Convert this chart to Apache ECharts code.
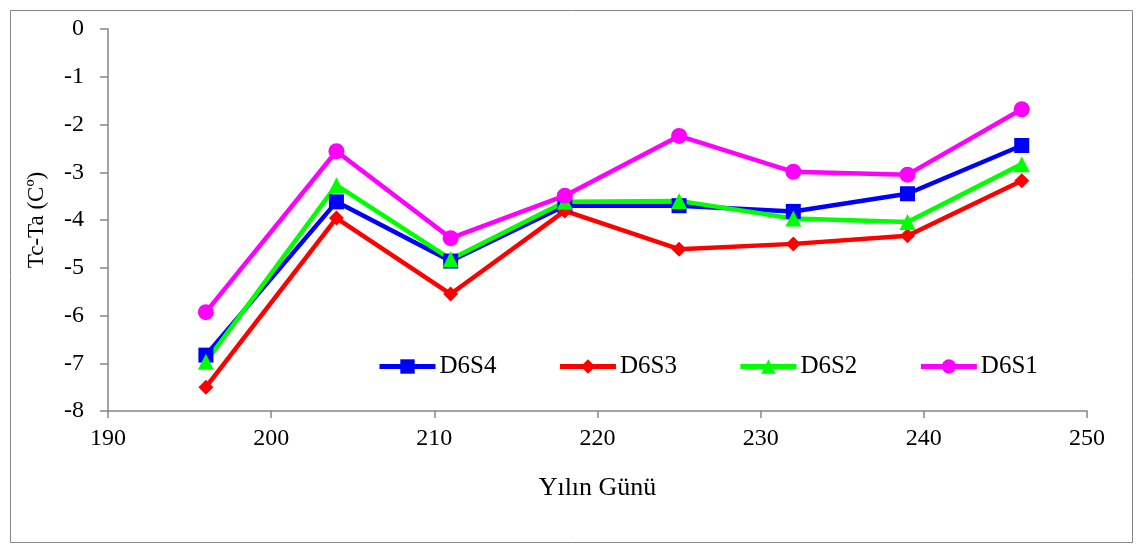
<!DOCTYPE html>
<html>
<head>
<meta charset="utf-8">
<script src="https://cdn.jsdelivr.net/npm/echarts@6/dist/echarts.min.js"></script>
<style>
  html, body { margin: 0; padding: 0; background: #fff; }
  #chart { width: 1139px; height: 545px; }
</style>
</head>
<body>
<div id="chart"></div>
<script>
const days = [196, 204, 211, 218, 225, 232, 239, 246]
const d6s4 = [-6.83, -3.62, -4.86, -3.70, -3.70, -3.82, -3.45, -2.44]
const d6s3 = [-7.50, -3.96, -5.55, -3.81, -4.61, -4.50, -4.33, -3.18]
const d6s2 = [-6.97, -3.27, -4.82, -3.62, -3.60, -3.97, -4.04, -2.83]
const d6s1 = [-5.93, -2.56, -4.38, -3.49, -2.24, -2.99, -3.05, -1.68]

const font = 'Liberation Serif'
const axisColor = '#868686'

const pairs = arr => days.map((d, i) => [d, arr[i]])

function lineSeries (name, data, color, symbol, size) {
  return {
    name,
    type: 'line',
    data: pairs(data),
    symbol,
    symbolSize: size,
    color,
    lineStyle: { width: 4.5, color },
    itemStyle: { color },
  }
}

const chart = echarts.init(document.getElementById('chart'))
chart.setOption({
  animation: false,
  textStyle: { fontFamily: font },
  graphic: [{
    type: 'rect',
    left: 8,
    top: 8,
    shape: { width: 1122, height: 532 },
    style: { fill: 'none', stroke: axisColor, lineWidth: 1 },
  }],
  grid: { left: 108, top: 29, right: 52, bottom: 134 },
  legend: {
    left: 377,
    top: 354,
    padding: 0,
    itemWidth: 56,
    itemHeight: 18,
    itemGap: 61,
    lineStyle: { width: 5 },
    textStyle: { fontFamily: font, fontSize: 25, color: '#000', padding: [0, 0, 0, -1] },
    data: ['D6S4', 'D6S3', 'D6S2', 'D6S1'],
  },
  xAxis: {
    type: 'value',
    min: 190,
    max: 250,
    interval: 10,
    name: 'Yılın Günü',
    nameLocation: 'middle',
    nameGap: 64,
    nameTextStyle: { fontFamily: font, fontSize: 26, color: '#000' },
    axisLine: { onZero: false, lineStyle: { color: axisColor, width: 1.5 } },
    axisTick: { show: true, length: 7, lineStyle: { color: axisColor, width: 1.5 } },
    axisLabel: { fontFamily: font, fontSize: 24, color: '#000', margin: 16 },
    splitLine: { show: false },
  },
  yAxis: {
    type: 'value',
    min: -8,
    max: 0,
    interval: 1,
    name: 'Tc-Ta (Cº)',
    nameLocation: 'middle',
    nameGap: 60,
    nameRotate: 90,
    nameTextStyle: { fontFamily: font, fontSize: 23, color: '#000' },
    axisLine: { show: true, onZero: false, lineStyle: { color: axisColor, width: 1.5 } },
    axisTick: { show: true, length: 8, lineStyle: { color: axisColor, width: 1.5 } },
    axisLabel: { fontFamily: font, fontSize: 24, color: '#000', margin: 24 },
    splitLine: { show: false },
  },
  series: [
    lineSeries('D6S4', d6s4, '#0000ff', 'rect', 15),
    lineSeries('D6S3', d6s3, '#ff0000', 'diamond', 15),
    lineSeries('D6S2', d6s2, '#00ff00', 'triangle', 16),
    lineSeries('D6S1', d6s1, '#ff00ff', 'circle', 16),
  ],
})
</script>
</body>
</html>
